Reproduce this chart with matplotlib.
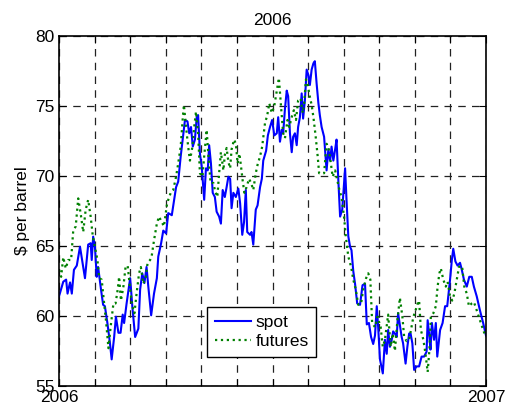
import matplotlib
matplotlib.use('Agg')
import matplotlib.pyplot as plt

# time in months since 1 Jan 2006, prices in $ per barrel
spot_month = [0.00, 0.12, 0.20, 0.24, 0.31, 0.36, 0.42, 0.50, 0.59, 0.65, 0.73, 0.82, 0.89, 0.92, 0.96,
              1.01, 1.06, 1.10, 1.18, 1.24, 1.29, 1.36, 1.43, 1.48, 1.55, 1.60, 1.67, 1.73, 1.79, 1.83, 1.90,
              2.00, 2.06, 2.14, 2.23, 2.28, 2.34, 2.40, 2.46, 2.51, 2.59, 2.67, 2.75, 2.79, 2.87, 2.93,
              3.01, 3.07, 3.17, 3.23, 3.29, 3.35, 3.42, 3.48, 3.54, 3.61, 3.66, 3.71, 3.76, 3.82, 3.87, 3.91, 3.96,
              4.01, 4.04, 4.08, 4.13, 4.18, 4.22, 4.27, 4.32, 4.38, 4.43, 4.50, 4.55, 4.60, 4.66, 4.71, 4.76, 4.81, 4.85, 4.90, 4.97,
              5.04, 5.09, 5.15, 5.20, 5.25, 5.29, 5.37, 5.41, 5.46, 5.53, 5.58, 5.65, 5.70, 5.74, 5.82, 5.87, 5.93, 5.99,
              6.05, 6.12, 6.16, 6.21, 6.26, 6.30, 6.35, 6.40, 6.44, 6.49, 6.54, 6.58, 6.63, 6.68, 6.72, 6.77, 6.82, 6.86, 6.91, 6.96,
              7.01, 7.05, 7.10, 7.15, 7.19, 7.24, 7.29, 7.33, 7.38, 7.45, 7.52, 7.57, 7.62, 7.66, 7.71, 7.76, 7.80, 7.85, 7.90, 7.96,
              8.04, 8.08, 8.13, 8.18, 8.22, 8.27, 8.32, 8.38, 8.46, 8.53, 8.60, 8.65, 8.71, 8.77, 8.83, 8.88, 8.93, 8.97,
              9.02, 9.10, 9.16, 9.21, 9.25, 9.30, 9.35, 9.39, 9.44, 9.49, 9.53, 9.58, 9.63, 9.67, 9.74, 9.79, 9.84, 9.88, 9.93, 9.98,
              10.05, 10.12, 10.19, 10.26, 10.33, 10.36, 10.41, 10.44, 10.48, 10.54, 10.59, 10.63, 10.71, 10.78, 10.85, 10.91, 10.99,
              11.04, 11.08, 11.14, 11.20, 11.27, 11.32, 11.38, 11.46, 11.53, 11.60, 11.66, 11.74, 11.83, 11.92, 12.00]
spot_price = [61.4, 62.45, 62.6, 61.6, 62.4, 61.6, 63.3, 63.6, 64.95, 64.0, 62.7, 65.1, 65.2, 64.0, 65.67,
              64.95, 62.8, 63.5, 61.9, 60.8, 60.7, 59.5, 58.1, 56.9, 58.5, 59.95, 58.8, 58.8, 60.1, 59.5, 60.9,
              62.7, 60.7, 58.5, 59.1, 61.9, 63.05, 62.35, 63.5, 62.1, 60.05, 61.6, 62.7, 64.25, 65.2, 66.1,
              65.9, 67.35, 67.2, 68.2, 69.2, 69.6, 71.4, 72.7, 74.0, 73.9, 73.05, 73.5, 72.1, 72.6, 74.2, 74.35, 71.6,
              70.7, 69.7, 68.3, 70.55, 70.4, 72.2, 70.9, 68.8, 68.5, 67.45, 67.1, 66.6, 69.0, 68.5, 69.2, 69.95, 69.8, 67.7, 68.8, 68.5,
              69.1, 68.05, 65.8, 66.7, 69.0, 66.0, 65.8, 66.0, 65.1, 67.6, 67.9, 69.2, 69.8, 71.1, 71.8, 72.9, 73.5, 74.0,
              72.9, 73.05, 74.2, 72.45, 73.3, 73.05, 74.8, 76.1, 75.7, 73.05, 71.7, 72.8, 73.05, 72.2, 73.5, 74.2, 75.9, 74.1, 75.4, 77.6,
              77.2, 76.5, 77.6, 78.05, 78.2, 76.6, 75.2, 74.35, 73.5, 72.8, 70.4, 71.9, 71.1, 72.1, 71.1, 71.9, 72.6, 69.7, 67.1, 67.6,
              70.55, 68.3, 65.7, 64.95, 64.7, 63.2, 62.3, 60.9, 60.8, 62.2, 62.3, 59.4, 59.5, 58.5, 58.0, 58.6, 60.7, 59.2,
              56.9, 55.9, 58.3, 57.3, 59.0, 57.8, 58.3, 58.9, 58.75, 58.5, 60.2, 59.35, 58.5, 58.05, 56.6, 57.8, 58.75, 58.75, 58.05, 56.15,
              56.4, 56.4, 57.1, 57.1, 57.45, 59.7, 58.5, 57.6, 59.5, 58.3, 59.5, 57.1, 59.0, 59.5, 60.7, 60.7, 62.6,
              64.0, 64.8, 63.9, 63.6, 63.8, 63.3, 62.6, 62.1, 62.8, 62.8, 62.1, 61.4, 60.4, 59.5, 58.6]

fut_month = [0.00, 0.06, 0.12, 0.19, 0.26, 0.34, 0.40, 0.47, 0.54, 0.61, 0.68, 0.75, 0.82, 0.89, 0.95,
             1.01, 1.08, 1.13, 1.20, 1.26, 1.32, 1.39, 1.45, 1.53, 1.59, 1.65, 1.69, 1.74, 1.81, 1.87, 1.93,
             2.00, 2.06, 2.12, 2.18, 2.25, 2.30, 2.37, 2.44, 2.49, 2.56, 2.60, 2.67, 2.75, 2.81, 2.89, 2.95,
             3.03, 3.07, 3.14, 3.21, 3.29, 3.35, 3.42, 3.48, 3.51, 3.57, 3.63, 3.68, 3.75, 3.80, 3.85, 3.91, 3.96,
             4.03, 4.08, 4.15, 4.20, 4.26, 4.34, 4.38, 4.45, 4.50, 4.55, 4.62, 4.66, 4.71, 4.76, 4.81, 4.85, 4.92, 4.97,
             5.02, 5.07, 5.11, 5.16, 5.21, 5.27, 5.34, 5.40, 5.46, 5.53, 5.58, 5.65, 5.71, 5.79, 5.85, 5.91, 5.98,
             6.05, 6.12, 6.18, 6.24, 6.30, 6.35, 6.42, 6.47, 6.54, 6.60, 6.66, 6.72, 6.79, 6.85, 6.89, 6.94, 6.99,
             7.03, 7.10, 7.15, 7.21, 7.27, 7.31, 7.38, 7.45, 7.52, 7.57, 7.63, 7.69, 7.76, 7.82, 7.88, 7.94,
             8.01, 8.06, 8.13, 8.21, 8.27, 8.34, 8.41, 8.49, 8.55, 8.63, 8.69, 8.75, 8.80, 8.88, 8.95,
             9.04, 9.10, 9.16, 9.25, 9.32, 9.38, 9.44, 9.51, 9.58, 9.65, 9.70, 9.77, 9.84, 9.89, 9.96,
             10.02, 10.08, 10.12, 10.17, 10.24, 10.30, 10.36, 10.41, 10.45, 10.52, 10.59, 10.64, 10.69, 10.73, 10.80, 10.87, 10.92, 10.99,
             11.05, 11.11, 11.18, 11.24, 11.29, 11.33, 11.39, 11.46, 11.52, 11.60, 11.66, 11.74, 11.83, 11.92, 12.00]
fut_price = [63.3, 62.8, 64.2, 63.4, 64.0, 64.0, 66.1, 66.4, 68.4, 67.3, 66.0, 67.6, 68.3, 67.1, 65.7,
             64.95, 64.0, 62.7, 62.6, 61.1, 59.7, 57.7, 59.2, 60.9, 60.9, 61.9, 62.8, 61.1, 62.1, 63.5, 63.6,
             61.9, 60.7, 60.2, 61.6, 63.05, 63.5, 62.3, 62.8, 63.8, 64.0, 64.2, 65.4, 66.6, 67.1, 66.7, 66.4,
             67.9, 68.3, 68.8, 69.0, 69.95, 70.9, 72.1, 74.2, 75.07, 73.5, 72.1, 71.1, 72.1, 73.5, 74.6, 73.05, 70.2,
             69.95, 71.4, 73.3, 71.4, 69.5, 69.5, 69.0, 68.5, 70.2, 71.7, 70.4, 71.5, 72.0, 71.0, 70.55, 71.9, 72.6, 72.3,
             70.9, 71.6, 70.8, 69.7, 68.8, 69.2, 69.8, 69.5, 69.0, 70.2, 70.8, 71.4, 72.1, 73.8, 74.3, 75.2, 74.5,
             75.0, 76.1, 77.0, 74.95, 73.05, 72.7, 74.0, 73.5, 74.2, 74.7, 74.0, 75.4, 75.55, 74.5, 75.2, 76.9, 76.6,
             75.9, 75.07, 74.2, 72.9, 71.4, 70.2, 70.2, 70.2, 72.3, 72.1, 71.1, 69.95, 70.4, 69.7, 69.0, 68.5,
             67.1, 65.7, 64.25, 63.5, 62.6, 61.9, 60.8, 60.9, 61.9, 62.7, 63.05, 62.6, 59.5, 59.2, 59.95,
             59.2, 57.8, 58.3, 60.1, 57.8, 58.75, 57.5, 59.7, 61.3, 59.95, 58.5, 58.2, 58.3, 59.0, 59.95,
             60.4, 60.9, 61.1, 59.0, 58.3, 57.3, 56.0, 57.6, 59.95, 60.2, 60.7, 62.1, 63.05, 63.4, 62.6, 62.1, 62.45, 61.4,
             61.1, 61.6, 62.6, 63.5, 63.6, 63.5, 62.1, 61.6, 60.7, 60.9, 61.0, 60.4, 59.7, 59.0, 58.5]

month_ticks = list(range(13))
month_labels = ['2006'] + [''] * 11 + ['2007']
y_ticks = [55, 60, 65, 70, 75, 80]

plt.rcParams['font.family'] = ['Liberation Sans', 'DejaVu Sans']
plt.rcParams['font.size'] = 12.5

fig = plt.figure(figsize=(5.07, 4.12), dpi=100)
ax = fig.add_axes([59 / 507, 26 / 412, 427 / 507, 350 / 412])

ax.plot(spot_month, spot_price, color='#0000ff', lw=1.5, label='spot')
ax.plot(fut_month, fut_price, color='#008000', lw=1.6, ls=':', label='futures')

ax.set_xlim(0, 12)
ax.set_ylim(55, 80)
ax.set_xticks(month_ticks)
ax.set_xticklabels(month_labels)
ax.set_yticks(y_ticks)
ax.tick_params(direction='in', top=True, right=True, length=5, width=0.8, pad=3)
ax.grid(True, color='#222222', ls=(0, (6, 5)), lw=0.9)
for s in ax.spines.values():
    s.set_linewidth(1.2)

ax.set_title('2006', fontsize=12.5, pad=8)
ax.set_ylabel('$ per barrel', labelpad=4)

leg = ax.legend(loc='lower left', bbox_to_anchor=(0.347, 0.083), fancybox=False,
                framealpha=1, edgecolor='black', handlelength=2.07, borderaxespad=0,
                borderpad=0.45, labelspacing=0.25, handletextpad=0.25)
leg.get_frame().set_linewidth(1.0)

fig.savefig('out.png', dpi=100)
